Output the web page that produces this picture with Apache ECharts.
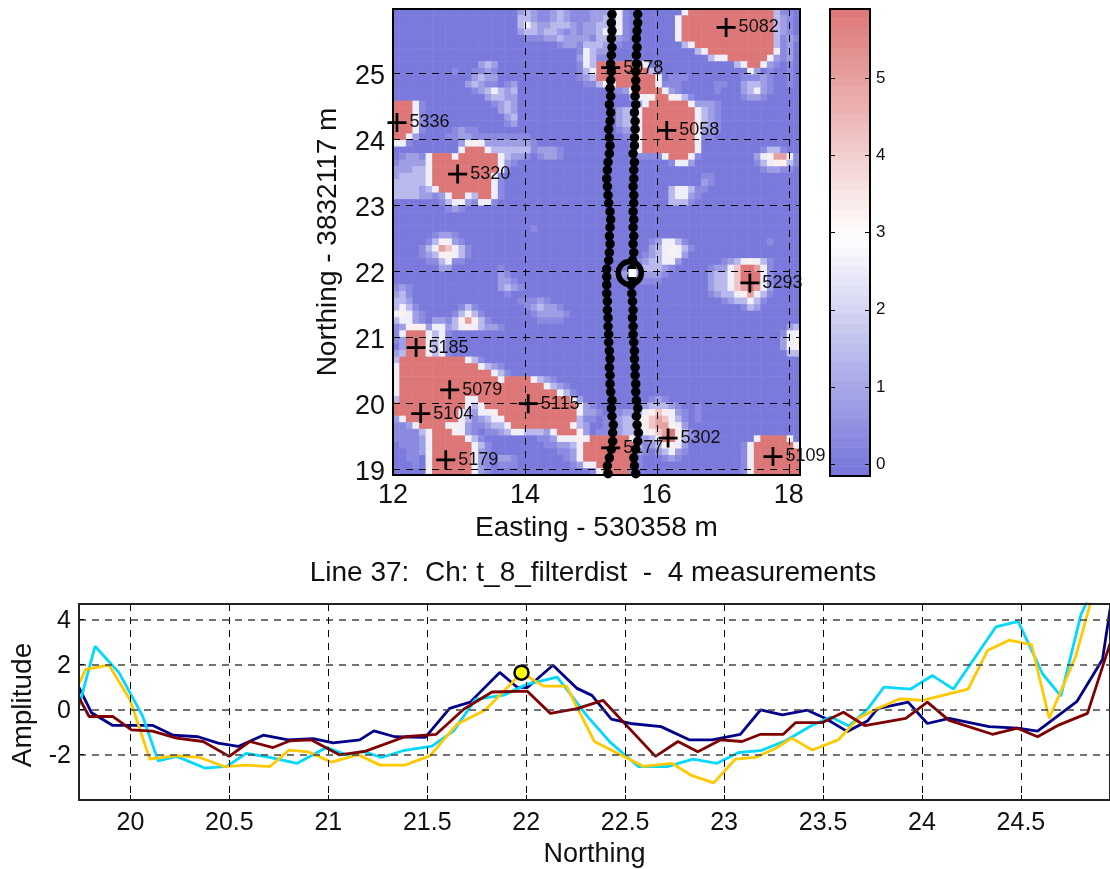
<!DOCTYPE html>
<html><head><meta charset="utf-8">
<style>html,body{margin:0;padding:0;background:#fff}#c{width:1110px;height:869px}</style>
<script src="https://cdn.jsdelivr.net/npm/echarts@6/dist/echarts.min.js"></script>
</head><body><div id="c"></div>
<script>
// Map amplitude levels, one digit per cell; rows run north to south, columns west to east.
const heatLevels = [0,0.35,0.8,1.4,2.6,3.3,4.2,5.0,5.9];
const heatRows = [
"0000000000 0000000002 3211232111 2222410000 0000488888 8888888831 10",
"0000000000 0000000003 3211232111 2232410000 0004888888 8888888832 10",
"0000000000 0000000003 4322333212 2332410000 0004888888 8888888832 10",
"0000000000 0000000002 3323321212 2342410000 0004888888 8888888832 10",
"0000000000 0000000000 1112232222 1333210000 0004888888 8888888831 21",
"0000000000 0000000000 0000012213 3322100000 0000348888 8888888831 20",
"0000000000 0000000000 0000000014 3221000000 0000003488 8888888841 20",
"0000000000 0000000000 0000000024 3111000000 0000000034 4888888421 20",
"0000000000 0002320000 0000000014 3888888840 0000000000 0034884210 10",
"0000000001 0011210000 0000000013 4888888883 1000000000 0000420100 10",
"0000000000 0023220000 0000000012 3888888888 4011100000 0001112100 10",
"0000000000 0232110120 0000000001 1355888888 4111000001 1002332100 10",
"0000000000 0012343230 0000000000 0001124888 8421000001 0002342100 00",
"0000000000 0000233220 0000000000 0000002445 8854310000 0001221000 00",
"8884100000 0000012320 0000000000 0000000248 8888842221 0000000000 00",
"8884100000 0000002320 0000000000 0000233488 8888884321 0000000000 00",
"8884100000 0000000230 0000000000 0000233488 8888884321 0000000000 00",
"8884100000 0000000120 0000000000 0000233488 8888884321 0000000000 00",
"8884100001 2110000000 0000000000 0000122488 8888884221 0000000000 00",
"8842000011 2211111111 1000000000 0000011488 8888884110 0000000000 00",
"4410000000 2454222222 2100000000 0000001488 8888884000 0000000000 00",
"0000000000 4888433333 3122210000 0000001488 8888884000 0000001331 00",
"0122148884 8888884322 1012210000 0000000111 1488841000 0000024577 41",
"1222248888 8888884210 0000000000 0000000000 0014420000 0000013455 31",
"2223348888 8888884100 0000000000 0000000000 0000000000 0000001221 10",
"2333348888 8888841000 0000000000 0000000000 0000000110 0000000000 00",
"3333348888 8888841000 0000000000 0000000000 0000000210 0000000000 00",
"3333234888 8888841000 0000000000 0000000000 0034431100 0000000000 00",
"3333221248 8438841000 0000000000 0000000000 0034421000 0000000000 00",
"0000000134 4214410000 0000000000 0000000000 0033310000 0000000000 00",
"0000000012 1000000000 0000000000 0000000000 0000000000 0000000000 00",
"0000000000 0000000000 0000000000 0000000000 0000000000 0000000000 00",
"0000000000 0000000000 0000000000 0000000000 0000000000 0000000000 00",
"0000000000 0000000000 0100000000 0000000000 0000000000 0000000000 00",
"0000001221 0000000000 0000000000 0000000000 0000000000 0000000000 00",
"0000013542 1000000000 0000000000 0000000001 2443100000 0000000100 00",
"0000134764 3100000000 0000000000 0000000002 3454310000 0000000000 00",
"0000123554 3100000000 0000000000 0000000012 3454200000 0000000000 00",
"0000011341 1000000000 0000000000 0000000123 3442000000 1234543100 00",
"0000000220 0000001000 0000000000 0000001233 3210000012 2468874100 00",
"0000000000 0000002100 0000000000 0001222222 2100000023 3468884100 00",
"0000000000 0000002210 0000000000 0000011111 1000000023 3468884100 00",
"1210000000 0000002321 0000000000 0000000000 0000000023 3467874200 00",
"2310000000 0000000100 0000000000 0000000000 0000000012 3345743100 00",
"3320000000 0000000001 1121000000 0000000000 0000000000 1233431000 00",
"3431000000 1310000000 1232210000 0000000000 0000000000 0001320000 00",
"4542100001 3431000000 0122221000 0000000000 0000000000 0000000000 00",
"3442102213 5753100000 0011110000 0000000000 0000000000 0000000000 00",
"1255524423 4543221000 0000000000 0000000000 0000000000 0000000000 23",
"1488843410 0000000000 0000000000 0000000000 0000000000 0000000001 44",
"1288843410 0000000000 0000000000 0000000000 0000000000 0000000002 45",
"0288843410 0000000000 0000000000 0000000000 0000000000 0000000002 45",
"2388843410 0000000000 0000000000 0000000000 0000000000 0000000000 33",
"3888888888 8431000000 0000000000 0000000000 0000000000 0000000000 00",
"4888888888 8884321000 0000000000 0000000000 0000000000 0000000000 00",
"4888888888 8888843100 0000000000 0000000000 0000000000 0000000000 00",
"4888888888 8888884888 8432100000 0000000000 0000000000 0000000000 00",
"4888888888 8888888888 8884321000 0000000000 0000000000 0000000000 00",
"4888888888 8888888888 8888843100 0000000000 0000000000 0000000000 00",
"3888888888 8448888888 8888888420 0000000001 2100000000 0000000000 00",
"8888888888 8434888888 8888888842 1000000123 3321001000 0000000000 00",
"8888888888 4324458888 8888888842 2101122345 6542101000 0000000000 00",
"2488888888 4312344888 8888888831 1012233456 7643101000 0000000000 00",
"1124888845 4211233488 8888888532 0012233456 7754200000 0000000000 00",
"1111348885 4210112344 3332488852 0112233345 6785310000 0000000000 00",
"1111248888 8431000000 0011244454 8888884123 4885310000 0000048888 40",
"0111248888 8843100000 0001122348 8888888312 3554200000 0001488888 84",
"0011248888 8842100000 0000011248 8888888210 2342100000 0001488888 88",
"0011048888 8842102210 0000001248 8888888100 0121000000 0001488888 88",
"0001048888 8842101110 0000000124 4888888100 0000000000 0001488888 88",
"0000048888 8842100000 0000000000 1488881000 0000000000 0001488888 88"
];
const colorbarValues = [-0.09,0.04,0.16,0.29,0.41,0.53,0.66,0.78,0.90,1.03,1.15,1.27,1.40,1.52,1.65,1.77,1.89,2.02,2.14,2.26,2.39,2.51,2.64,2.76,2.88,3.01,3.13,3.25,3.38,3.50,3.62,3.75,3.87,4.00,4.12,4.24,4.37,4.49,4.61,4.74,4.86,4.99,5.11,5.23,5.36,5.48,5.60,5.73,5.85];

// Anomaly picks: name, easting, northing
const picks = [
["5082",17.05,25.70],["5078",15.30,25.09],["5336",12.06,24.26],["5058",16.15,24.14],
["5320",12.98,23.48],["5293",17.41,21.83],["5185",12.35,20.85],["5079",12.86,20.21],
["5104",12.42,19.85],["5115",14.05,20.00],["5177",15.30,19.33],["5302",16.17,19.48],
["5179",12.80,19.15],["5109",17.76,19.20]
];

// Survey tracks
const trackNorthing = [18.94,19.06,19.18,19.31,19.43,19.56,19.68,19.81,19.93,20.05,
20.18,20.30,20.43,20.55,20.68,20.80,20.93,21.05,21.17,21.30,
21.42,21.55,21.67,21.80,21.92,22.04,22.17,22.29,22.42,22.54,
22.67,22.79,22.91,23.04,23.16,23.29,23.41,23.54,23.66,23.79,
23.91,24.03,24.16,24.28,24.41,24.53,24.66,24.78,24.90,25.03,
25.15,25.28,25.40,25.53,25.65,25.77,25.90];
const trackWestEasting = [15.26,15.25,15.28,15.31,15.33,15.33,15.34,15.32,15.31,15.32,
15.30,15.29,15.29,15.28,15.29,15.28,15.27,15.27,15.26,15.26,
15.25,15.25,15.24,15.24,15.24,15.24,15.27,15.28,15.29,15.28,
15.29,15.30,15.29,15.27,15.26,15.25,15.24,15.25,15.26,15.28,
15.29,15.28,15.27,15.29,15.30,15.28,15.30,15.29,15.30,15.31,
15.30,15.31,15.32,15.31,15.32,15.31,15.32];
const trackEastEasting = [15.68,15.66,15.65,15.68,15.71,15.72,15.70,15.69,15.71,15.69,
15.68,15.68,15.67,15.67,15.66,15.66,15.65,15.64,15.64,15.63,
15.64,15.63,15.62,15.61,15.62,15.62,15.63,15.65,15.64,15.65,
15.64,15.65,15.64,15.65,15.65,15.64,15.65,15.65,15.66,15.64,
15.66,15.66,15.67,15.67,15.66,15.68,15.67,15.68,15.68,15.68,
15.69,15.69,15.70,15.69,15.70,15.71,15.71];
const currentLocation = [15.59,21.98];
const currentSample = [15.63,21.98];

// Profile channels: northing, amplitude
const navyProfile = [[19.74,0.96],[19.803,-0.15],[19.909,-0.71],[20.111,-0.71],[20.216,-1.15],[20.342,-1.22],[20.443,-1.50],[20.544,-1.65],[20.671,-1.15],[20.797,-1.36],[20.923,-1.30],[21.025,-1.49],[21.159,-1.36],[21.23,-0.96],[21.336,-1.22],[21.49,-1.25],[21.613,0.04],[21.717,0.32],[21.866,1.64],[21.953,0.99],[22.004,0.96],[22.135,1.96],[22.257,0.93],[22.332,0.62],[22.43,-0.44],[22.526,-0.63],[22.681,-0.77],[22.826,-1.36],[22.939,-1.36],[23.082,-1.11],[23.184,-0.03],[23.294,-0.25],[23.421,-0.04],[23.513,-0.41],[23.623,-0.99],[23.724,-0.52],[23.775,0.03],[23.93,0.32],[24.027,-0.63],[24.137,-0.40],[24.339,-0.77],[24.482,-0.84],[24.584,-0.97],[24.782,0.34],[24.912,2.21],[24.954,4.65]];
const cyanProfile = [[19.74,0.15],[19.821,2.80],[19.943,1.62],[20.061,-0.29],[20.14,-2.29],[20.233,-2.09],[20.376,-2.61],[20.485,-2.54],[20.586,-1.96],[20.704,-2.14],[20.843,-2.40],[20.991,-1.70],[21.092,-2.02],[21.176,-1.87],[21.269,-2.14],[21.378,-1.84],[21.524,-1.64],[21.633,-0.96],[21.743,0.44],[21.886,0.63],[22.004,1.11],[22.156,1.43],[22.198,0.96],[22.307,-0.29],[22.425,-1.47],[22.568,-2.55],[22.712,-2.55],[22.843,-2.21],[22.964,-2.40],[23.074,-1.92],[23.184,-1.84],[23.311,-1.40],[23.438,-0.74],[23.539,-0.34],[23.631,-0.74],[23.724,0],[23.808,0.99],[23.943,0.90],[24.053,1.50],[24.159,0.90],[24.373,3.66],[24.486,3.91],[24.609,1.58],[24.702,0.59],[24.803,4.20],[24.828,4.68],[24.9,7.0]];
const goldProfile = [[19.74,1.14],[19.774,1.77],[19.892,1.96],[19.997,0.44],[20.098,-2.21],[20.233,-2.06],[20.351,-2.14],[20.477,-2.55],[20.586,-2.48],[20.704,-2.55],[20.802,-1.81],[20.898,-1.89],[21.016,-2.35],[21.151,-2.02],[21.261,-2.48],[21.387,-2.48],[21.515,-2.06],[21.65,-0.66],[21.793,-0.03],[21.945,1.33],[21.979,1.62],[22.088,1.03],[22.203,1.03],[22.344,-1.43],[22.594,-2.54],[22.737,-2.40],[22.838,-2.95],[22.948,-3.27],[23.057,-2.21],[23.158,-2.14],[23.261,-1.73],[23.342,-1.28],[23.446,-1.81],[23.576,-1.36],[23.682,-0.37],[23.775,0.04],[23.889,0.47],[24.002,0.40],[24.233,0.90],[24.331,2.61],[24.44,3.07],[24.553,2.88],[24.643,-0.40],[24.777,2.36],[24.85,4.68],[24.92,7.0]];
const maroonProfile = [[19.74,0.52],[19.791,-0.32],[19.912,-0.32],[20.005,-0.91],[20.111,-0.97],[20.233,-1.28],[20.367,-1.43],[20.499,-2.09],[20.603,-1.43],[20.721,-1.70],[20.806,-1.40],[20.915,-1.36],[21.055,-2.02],[21.185,-1.87],[21.387,-1.22],[21.545,-1.11],[21.684,0],[21.827,0.77],[22.004,0.81],[22.122,-0.18],[22.257,0.03],[22.388,0.40],[22.653,-2.09],[22.767,-1.43],[22.867,-1.89],[22.981,-1.36],[23.091,-1.43],[23.184,-1.11],[23.299,-1.11],[23.362,-0.59],[23.497,-0.59],[23.603,-0.13],[23.711,-0.72],[23.918,-0.40],[24.027,0.32],[24.137,-0.49],[24.356,-1.11],[24.482,-0.84],[24.584,-1.22],[24.693,-0.69],[24.836,-0.18],[24.954,3.02]];
const currentPick = [21.976,1.63];

// Tick labels
const mapEastTicks = [12,14,16,18];
const mapNorthTicks = [19,20,21,22,23,24,25];
const colorbarTicks = [0,1,2,3,4,5];
const profileNorthTicks = [20,20.5,21,21.5,22,22.5,23,23.5,24,24.5];
const profileAmpTicks = [-2,0,2,4];

const FONT = '"Liberation Sans", Arial, sans-serif';
const heatData = [];
heatRows.forEach((row, r) => {
  row.replace(/\s/g,'').split('').forEach((d, c) => heatData.push([c, r, heatLevels[+d]]));
});
const nCols = heatRows[0].replace(/\s/g,'').length;
const hiddenCat = (gridIndex, n, extra) => Object.assign({type:'category', gridIndex, show:false, data:Array.from({length:n},(_, i)=>i)}, extra||{});
const noLabelAxis = (o) => Object.assign({type:'value', axisLabel:{show:false}, axisTick:{show:false}, axisLine:{show:false, onZero:false}, splitLine:{show:false}}, o);
const dash = (color,width,dashArr) => ({show:true, lineStyle:{color, width, type:dashArr}});

const tickAxis = (ticks, extra, fontSize, margin, labelShift, nameSize, namePad) => {
  const label = {show:true, customValues:ticks, color:'#111', fontFamily:FONT, fontSize, margin, hideOverlap:false};
  if (labelShift) {
    label.formatter = '{a|{value}}';
    label.rich = {a:{fontFamily:FONT, fontSize, color:'#111', padding:[labelShift,0,0,0]}};
  }
  return Object.assign({
    type:'value', z:5, scale:true,
    axisLine:{show:false, onZero:false},
    axisTick:{show:true, inside:true, length:5, customValues:ticks, lineStyle:{color:'#000', width:1}},
    axisLabel:label,
    nameTextStyle:{color:'#111', fontFamily:FONT, fontSize:nameSize||fontSize, padding:namePad||0}
  }, extra);
};

const option = {
  animation:false,
  backgroundColor:'#fff',
  title:{text:'Line 37:  Ch: t_8_filterdist  -  4 measurements', left:588, top:554, textAlign:'center',
    textStyle:{fontFamily:FONT, fontSize:28, fontWeight:'normal', color:'#111'}},
  grid:[
    {left:393, top:9, width:407, height:466},
    {left:393, top:9, width:407, height:466, show:true, backgroundColor:'transparent', borderColor:'#000', borderWidth:2, z:10},
    {left:830, top:9, width:40, height:467},
    {left:830, top:9, width:40, height:467, show:true, backgroundColor:'transparent', borderColor:'#000', borderWidth:2, z:10},
    {left:79, top:604, width:1031, height:197, show:true, backgroundColor:'transparent', borderColor:'#222', borderWidth:2, z:10}
  ],
  xAxis:[
    hiddenCat(0, nCols),
    tickAxis(mapEastTicks, {gridIndex:1, min:12, max:18.17, position:'bottom', name:'Easting - 530358 m', nameLocation:'middle', nameGap:39, splitLine:dash('#000',1,[7,6])}, 27, 7, 0, 28),
    hiddenCat(2, 1),
    noLabelAxis({gridIndex:3, min:0, max:1}),
    tickAxis(profileNorthTicks, {gridIndex:4, min:19.74, max:24.95, position:'bottom', name:'Northing', nameLocation:'middle', nameGap:41, splitLine:dash('#000',1,[7,6])}, 25, 11, 0, 27)
  ],
  yAxis:[
    hiddenCat(0, heatRows.length, {inverse:true}),
    tickAxis(mapNorthTicks, {gridIndex:1, min:18.92, max:25.98, position:'left', name:'Northing - 3832117 m', nameLocation:'middle', nameGap:51, nameRotate:90, splitLine:dash('#000',1,[7,6])}, 27, 8, 6, 28),
    hiddenCat(2, colorbarValues.length),
    tickAxis(colorbarTicks, {gridIndex:3, min:-0.15, max:5.89, position:'right', splitLine:{show:false}}, 17, 6),
    tickAxis(colorbarTicks, {gridIndex:3, min:-0.15, max:5.89, position:'left', axisLabel:{show:false}, splitLine:{show:false}}, 17, 6),
    tickAxis(profileAmpTicks, {gridIndex:4, min:-4.03, max:4.68, position:'left', name:'Amplitude', nameLocation:'middle', nameGap:42, nameRotate:90, splitLine:dash('#444',1.5,[7,6])}, 25, 8, 3, 28, [0,6,0,0])
  ],
  visualMap:{show:false, type:'continuous', seriesIndex:[0,1], dimension:2, min:0, max:5.9,
    inRange:{color:['#7a7adc','#ffffff','#dd7777']}, outOfRange:{color:'#ffffff'}},
  series:[
    {name:'map', type:'heatmap', xAxisIndex:0, yAxisIndex:0, data:heatData, z:2, progressive:0, silent:true},
    {name:'colorbar', type:'heatmap', xAxisIndex:2, yAxisIndex:2, data:colorbarValues.map((v,i)=>[0,i,v]), z:2, progressive:0, silent:true},
    {name:'picks', type:'scatter', xAxisIndex:1, yAxisIndex:1, z:6, clip:false,
      symbol:'path://M7.7 0h2.6v7.7h7.7v2.6h-7.7v7.7h-2.6v-7.7h-7.7v-2.6h7.7z', symbolSize:19,
      itemStyle:{color:'#000', opacity:1},
      label:{show:true, position:'right', distance:3, color:'#111', fontFamily:FONT, fontSize:18,
        formatter:p=>p.data[2]},
      data:picks.map(p=>[p[1],p[2],p[0]])},
    {name:'track west', type:'scatter', xAxisIndex:1, yAxisIndex:1, z:7, symbolSize:9.5, itemStyle:{color:'#000', opacity:1},
      data:trackWestEasting.map((x,i)=>[x,trackNorthing[i]])},
    {name:'track east', type:'scatter', xAxisIndex:1, yAxisIndex:1, z:7, symbolSize:9.5, itemStyle:{color:'#000', opacity:1},
      data:trackEastEasting.map((x,i)=>[x,trackNorthing[i]])},
    {name:'location', type:'scatter', xAxisIndex:1, yAxisIndex:1, z:8, symbolSize:23,
      itemStyle:{color:'rgba(0,0,0,0)', borderColor:'#000', borderWidth:5.5, opacity:1}, data:[currentLocation]},
    {name:'sample', type:'scatter', xAxisIndex:1, yAxisIndex:1, z:9, symbol:'rect', symbolSize:8,
      itemStyle:{color:'#fff', opacity:1}, data:[currentSample]},
    {name:'ch navy', type:'line', xAxisIndex:4, yAxisIndex:5, z:3, symbol:'none', lineStyle:{color:'#00008b', width:2.8}, data:navyProfile},
    {name:'ch cyan', type:'line', xAxisIndex:4, yAxisIndex:5, z:3, symbol:'none', lineStyle:{color:'#00d8ff', width:2.8}, data:cyanProfile},
    {name:'ch gold', type:'line', xAxisIndex:4, yAxisIndex:5, z:3, symbol:'none', lineStyle:{color:'#ffc800', width:2.8}, data:goldProfile},
    {name:'ch maroon', type:'line', xAxisIndex:4, yAxisIndex:5, z:3, symbol:'none', lineStyle:{color:'#7f0000', width:2.8}, data:maroonProfile},
    {name:'pick', type:'scatter', xAxisIndex:4, yAxisIndex:5, z:6, symbolSize:14,
      itemStyle:{color:'#ffff00', borderColor:'#000', borderWidth:2.5, opacity:1}, data:[currentPick]}
  ]
};
const chart = echarts.init(document.getElementById('c'), null, {renderer:'canvas'});
chart.setOption(option);
</script>
</body></html>
